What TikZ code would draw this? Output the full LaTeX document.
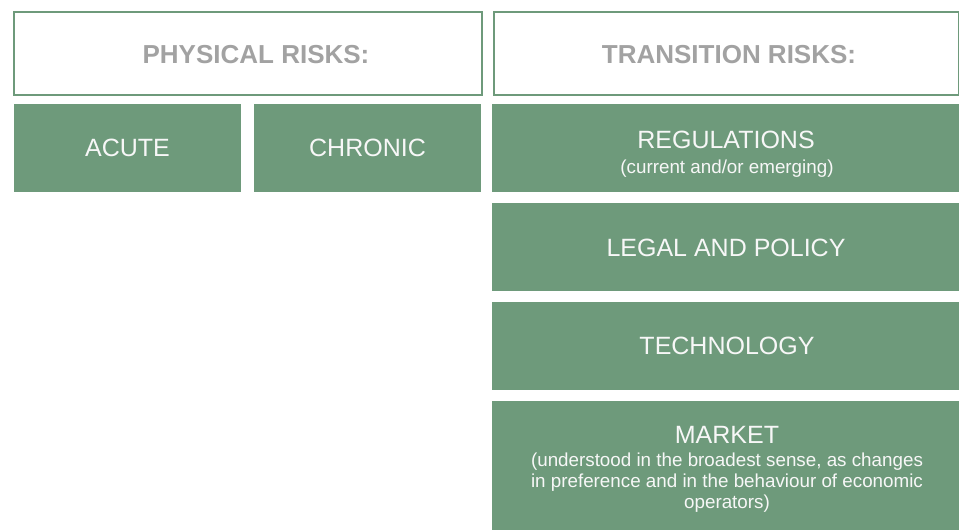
\documentclass[tikz,border=0pt]{standalone}
\usepackage{fontspec}
\setmainfont{Liberation Sans}
\definecolor{gfill}{HTML}{6E9A7B}
\definecolor{htext}{HTML}{A2A2A2}
\definecolor{wtext}{HTML}{F7F7F7}
\begin{document}
\begin{tikzpicture}[x=1pt,y=-1pt,
  hbox/.style={draw=gfill, line width=2.2pt, fill=white, inner sep=0pt, anchor=north west},
  gbox/.style={fill=gfill, draw=none, inner sep=0pt, anchor=north west},
  htxt/.style={font=\fontsize{26}{30}\selectfont\bfseries, text=htext, anchor=base, inner sep=0pt},
  btxt/.style={font=\fontsize{25}{30}\selectfont, text=wtext, anchor=base, inner sep=0pt},
  stxt/.style={font=\fontsize{18.8}{21}\selectfont, text=wtext, anchor=base, inner sep=0pt, align=center}]
\useasboundingbox (0,0) rectangle (959,530);
% headers
\node[hbox, minimum width=468pt, minimum height=83pt] (phys) at (13,11) {};
\node[hbox, minimum width=465pt, minimum height=83pt] (trans) at (493,11) {};
\node[htxt] (physt) at (256,63) {PHYSICAL RISKS:};
\node[htxt] (transt) at (729,63) {TRANSITION RISKS:};
% physical
\node[gbox, minimum width=227pt, minimum height=88pt] (acute) at (14,104) {};
\node[gbox, minimum width=227pt, minimum height=88pt] (chronic) at (254,104) {};
\node[btxt] (acutet) at (127.5,156) {ACUTE};
\node[btxt] (chronict) at (367.5,156) {CHRONIC};
% transition
\node[gbox, minimum width=467pt, minimum height=88pt] (reg) at (492,104) {};
\node[gbox, minimum width=467pt, minimum height=88pt] (legal) at (492,203) {};
\node[gbox, minimum width=467pt, minimum height=88pt] (tech) at (492,302) {};
\node[gbox, minimum width=467pt, minimum height=129pt] (market) at (492,401) {};
\node[btxt] (regt) at (726,148) {REGULATIONS};
\node[stxt] (regs) at (727,173) {(current and/or emerging)};
\node[btxt] (legalt) at (726,256.5) {LEGAL AND POLICY};
\node[btxt] (techt) at (727,354) {TECHNOLOGY};
\node[btxt] (markett) at (727,443) {MARKET};
\node[stxt] (markets) at (727,508) {(understood in the broadest sense, as changes\\in preference and in the behaviour of economic\\operators)};
\end{tikzpicture}
\end{document}
